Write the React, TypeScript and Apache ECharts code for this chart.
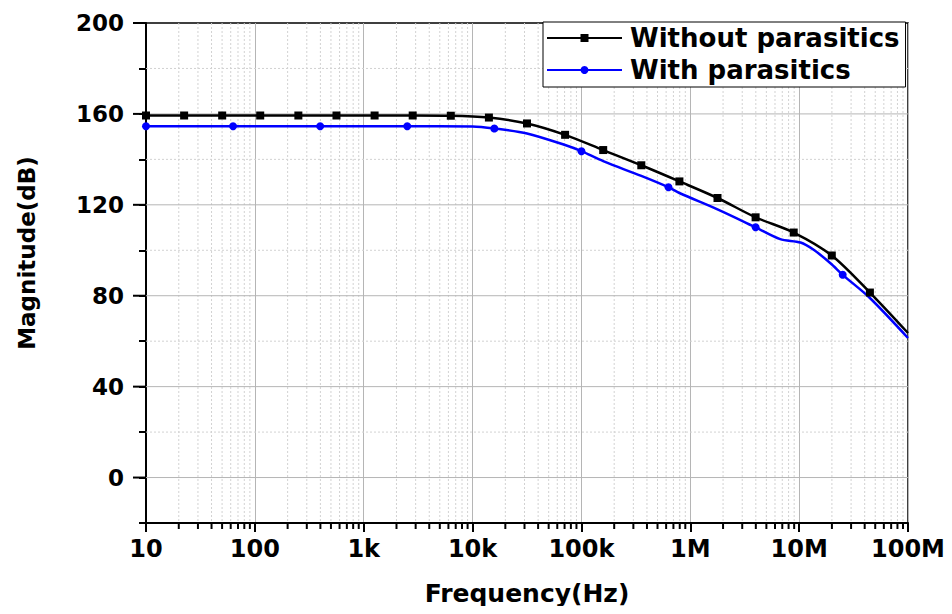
import React, { useEffect, useRef } from "react";
import * as echarts from "echarts";

// Axis tick labels for the logarithmic frequency axis (one per decade)
const xTickLabels = ["10", "100", "1k", "10k", "100k", "1M", "10M", "100M"];
const xMin = 10;
const xMax = 1e8;
const yMin = -20;
const yMax = 200;

// Open-loop magnitude, schematic without parasitics
const blackFreq = [
  10, 22.4, 50.1, 112, 251, 562, 1259, 2818, 6310, 14125, 31623, 70795, 158489,
  354813, 794328, 1778279, 3981072, 8912509, 19952623, 44668359, 100000000,
];
const blackMag = [
  159.3, 159.3, 159.3, 159.3, 159.3, 159.3, 159.3, 159.3, 159.2, 158.4, 155.8,
  150.8, 144.1, 137.4, 130.3, 123.0, 114.5, 107.8, 97.7, 81.4, 63.6,
];
const blackMarked = [
  true, true, true, true, true, true, true, true, true, true, true,
  true, true, true, true, true, true, true, true, true, false,
];

// Magnitude after post-layout extraction (markers on a subset of points)
const blueFreq = [
  10, 63.1, 398, 2512, 10000, 15849, 31623, 70795, 100000, 158489, 354813,
  630957, 794328, 1778279, 3981072, 6700000, 10300000, 13600000, 19400000,
  25118864, 44668359, 100000000,
];
const blueMag = [
  154.6, 154.6, 154.6, 154.6, 154.5, 153.6, 151.4, 146.3, 143.6, 139.2, 132.7,
  127.7, 125.2, 118.0, 110.1, 104.9, 103.4, 100.2, 94.3, 89.2, 79.0, 61.4,
];
const blueMarked = [
  true, true, true, true, false, true, false, false, true, false, false,
  true, false, false, true, false, false, false, false, true, false, false,
];

// Gridline levels on the magnitude axis
const yGridValues = [0, 20, 40, 60, 80, 100, 120, 140, 160, 180, 200];

const FONT = "DejaVu Sans";

export default function App() {
  const ref = useRef<HTMLDivElement>(null);

  useEffect(() => {
    if (!ref.current) return;
    const chart = echarts.init(ref.current, null, { renderer: "svg" });

    const decadeStarts = [10, 100, 1e3, 1e4, 1e5, 1e6, 1e7];
    const minorFreqs: number[] = [];
    decadeStarts.forEach((d) => {
      for (let m = 2; m <= 9; m++) minorFreqs.push(d * m);
    });

    const option: any = {
      animation: false,
      backgroundColor: "#fff",
      grid: {
        left: 146,
        top: 23,
        width: 762,
        height: 500,
        show: true,
        borderColor: "#000",
        borderWidth: 1.5,
        backgroundColor: "transparent",
      },
      legend: {
        data: ["Without parasitics", "With parasitics"],
        orient: "vertical",
        left: 543,
        top: 22,
        itemWidth: 75,
        itemHeight: 10,
        itemGap: 2,
        padding: [1, 6, 2, 3],
        backgroundColor: "#fff",
        borderColor: "#000",
        borderWidth: 1,
        borderRadius: 0,
        textStyle: {
          fontFamily: FONT,
          fontWeight: "bold",
          fontSize: 26,
          color: "#000",
          lineHeight: 30,
          padding: [0, 0, 0, 3],
        },
      },
      xAxis: {
        type: "log",
        logBase: 10,
        min: xMin,
        max: xMax,
        splitNumber: 7,
        name: "Frequency(Hz)",
        nameLocation: "middle",
        nameGap: 58,
        nameTextStyle: {
          fontFamily: FONT,
          fontWeight: "bold",
          fontSize: 25,
          color: "#000",
        },
        axisLine: { show: true, onZero: false, lineStyle: { color: "#000", width: 2 } },
        axisTick: { show: true, inside: false, length: 9, lineStyle: { color: "#000", width: 2 } },
        axisLabel: {
          fontFamily: FONT,
          fontWeight: "bold",
          fontSize: 24,
          color: "#000",
          margin: 14,
          formatter: (v: number) => {
            const i = Math.round(Math.log10(v)) - 1;
            return xTickLabels[i] ?? "";
          },
        },
        splitLine: { show: true, lineStyle: { color: "#b5b5b5", width: 1 } },
        minorTick: { show: false },
      },
      yAxis: {
        type: "value",
        min: yMin,
        max: yMax,
        interval: 20,
        name: "Magnitude(dB)",
        nameLocation: "middle",
        nameGap: 108,
        nameTextStyle: {
          fontFamily: FONT,
          fontWeight: "bold",
          fontSize: 23,
          color: "#000",
          padding: [0, 0, 0, 40],
        },
        axisLine: { show: true, onZero: false, lineStyle: { color: "#000", width: 2 } },
        axisTick: { show: true, inside: false, length: 7, lineStyle: { color: "#000", width: 2 } },
        axisLabel: {
          fontFamily: FONT,
          fontWeight: "bold",
          fontSize: 23,
          color: "#000",
          margin: 22,
          formatter: (v: number) => (v >= 0 && v % 40 === 0 ? String(v) : ""),
        },
        splitLine: { show: false },
      },
      series: [
        {
          // minor frequency gridlines and ticks (2..9 within each decade)
          type: "custom",
          silent: true,
          clip: false,
          z: 1,
          data: minorFreqs.map((f) => [f, 0]),
          renderItem: (_p: any, api: any) => {
            const f = api.value(0);
            const top = api.coord([f, yMax]);
            const bot = api.coord([f, yMin]);
            return {
              type: "group",
              children: [
                {
                  type: "line",
                  shape: { x1: top[0], y1: top[1], x2: bot[0], y2: bot[1] },
                  style: { stroke: "#d2d2d2", lineWidth: 1, lineDash: [2, 2] },
                },
                {
                  type: "line",
                  shape: { x1: bot[0], y1: bot[1], x2: bot[0], y2: bot[1] + 6 },
                  style: { stroke: "#000", lineWidth: 2 },
                },
              ],
            };
          },
        },
        {
          // magnitude gridlines: solid at labelled levels, dotted between
          type: "custom",
          silent: true,
          clip: false,
          z: 1,
          data: yGridValues.map((v) => [xMin, v]),
          renderItem: (_p: any, api: any) => {
            const v = api.value(1);
            const l = api.coord([xMin, v]);
            const r = api.coord([xMax, v]);
            const major = v % 40 === 0;
            const children: any[] = [];
            if (v < yMax) {
              children.push({
                type: "line",
                shape: { x1: l[0], y1: l[1], x2: r[0], y2: r[1] },
                style: major
                  ? { stroke: "#b5b5b5", lineWidth: 1 }
                  : { stroke: "#d2d2d2", lineWidth: 1, lineDash: [2, 2] },
              });
            }
            if (major) {
              children.push({
                type: "line",
                shape: { x1: l[0] - 13, y1: l[1], x2: l[0], y2: l[1] },
                style: { stroke: "#000", lineWidth: 2 },
              });
            }
            return { type: "group", children };
          },
        },
        {
          name: "Without parasitics",
          type: "line",
          z: 4,
          smooth: 0.3,
          symbol: "rect",
          symbolSize: 8,
          lineStyle: { color: "#000", width: 2.5 },
          itemStyle: { color: "#000" },
          data: blackFreq.map((f, i) => ({
            value: [f, blackMag[i]],
            symbol: blackMarked[i] ? "rect" : "none",
          })),
        },
        {
          name: "With parasitics",
          type: "line",
          z: 3,
          smooth: 0.3,
          symbol: "circle",
          symbolSize: 8,
          lineStyle: { color: "#0000ff", width: 2.5 },
          itemStyle: { color: "#0000ff" },
          data: blueFreq.map((f, i) => ({
            value: [f, blueMag[i]],
            symbol: blueMarked[i] ? "circle" : "none",
          })),
        },
      ],
    };

    chart.setOption(option);
    return () => chart.dispose();
  }, []);

  return <div ref={ref} style={{ width: 952, height: 614, margin: -8 }} />;
}
